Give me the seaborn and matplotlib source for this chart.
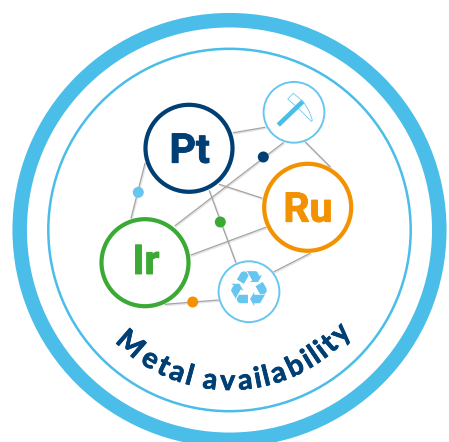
import numpy as np
import pandas as pd
import matplotlib
matplotlib.use("Agg")
import matplotlib.pyplot as plt
import matplotlib.patheffects as pe
from matplotlib.patches import Circle, Polygon
from matplotlib.textpath import TextToPath
from matplotlib.font_manager import FontProperties
import seaborn as sns

W, H = 449, 442
CX, CY = 229.5, 230.0

# metal / source nodes
metal_labels = ["Pt", "Ru", "Ir"]
metal_x = [189.0, 307.7, 145.0]
metal_y = [148.3, 207.3, 262.7]
metal_colors = ["#003F74", "#F39200", "#3BAA35"]
label_x = [189.7, 308.0, 146.0]
label_y = [162.7, 221.7, 274.0]

source_x = [294.0, 249.0]
source_y = [112.3, 291.7]

# network edges (start and end)
edge_x0 = [233.3, 145.0, 175.0, 305.0, 219.3, 209.3, 191.0, 274.0, 165.0]
edge_y0 = [132.7, 163.3, 225.7, 141.7, 184.3, 190.7, 255.0, 271.7, 304.3]
edge_x1 = [265.0, 131.0, 283.3, 330.0, 261.7, 235.7, 265.7, 310.0, 218.3]
edge_y1 = [127.3, 218.3, 142.7, 166.7, 198.0, 262.3, 227.3, 253.3, 300.0]

# small dots on the edges
dot_x = [138.3, 263.3, 220.3, 192.7]
dot_y = [192.3, 157.0, 222.0, 302.0]
dot_names = ["blue", "navy", "green", "orange"]
dot_palette = {"blue": "#66C6EF", "navy": "#003F74", "green": "#3BAA35", "orange": "#F39200"}

title = "Metal availability"

sns.set_theme(style="white")
LIGHT = "#4ABDE8"
ICON = "#66C6EF"
NAVY = "#003F74"

fig = plt.figure(figsize=(W / 100, H / 100), dpi=100, facecolor="white")
ax = fig.add_axes([0, 0, 1, 1])
ax.set_xlim(0, W)
ax.set_ylim(H, 0)
ax.set_aspect("equal")
ax.axis("off")

px = 72 / 100  # points per pixel

# rings
ax.add_patch(Circle((CX, CY), 209.8, fill=False, ec=LIGHT, lw=14.5 * px, zorder=1))
ax.add_patch(Circle((CX, CY), 181.2, fill=False, ec=LIGHT, lw=2.5 * px, zorder=1))

# edges with soft shadow
n = len(edge_x0)
edges = pd.DataFrame({
    "x": list(edge_x0) + list(edge_x1),
    "y": list(edge_y0) + list(edge_y1),
    "edge": list(range(n)) * 2,
})
shadow = edges.assign(x=edges.x + 0.8, y=edges.y + 1.0)
sns.lineplot(data=shadow, x="x", y="y", units="edge", estimator=None, sort=False,
             color="#000000", alpha=0.10, lw=2.0 * px, ax=ax, zorder=2, legend=False)
sns.lineplot(data=edges, x="x", y="y", units="edge", estimator=None, sort=False,
             color="#A3A3A3", lw=1.2 * px, ax=ax, zorder=3, legend=False)
ax.set_xlim(0, W)
ax.set_ylim(H, 0)

# metal nodes
for x, y, c, lab, lx, ly in zip(metal_x, metal_y, metal_colors, metal_labels, label_x, label_y):
    ax.add_patch(Circle((x, y), 43.5, fc="white", ec=c, lw=4.2 * px, zorder=4))
    ax.text(lx, ly, lab, color=c, fontsize=41 * px, family="Roboto", weight="bold",
            ha="center", va="baseline", zorder=5,
            path_effects=[pe.withStroke(linewidth=0.9 * px, foreground=c)])

# source nodes
for x, y in zip(source_x, source_y):
    ax.add_patch(Circle((x, y), 30.4, fc="white", ec=ICON, lw=1.9 * px, zorder=4))

# pickaxe icon, relative to its node centre
sx, sy = source_x[0], source_y[0]
head = np.array([[-0.7, -19], [-6.3, -13.3], [4.3, -4], [11, 2.7], [17.7, 9.3], [18.3, 7.7],
                 [15.3, -0.7], [9.3, -10.7]])
ax.add_patch(Polygon(head + [sx, sy], closed=True, fc="white", ec=ICON, lw=0.8 * px, zorder=5))
ax.plot([sx - 15.7, sx + 8.7], [sy + 12.7, sy - 10.7], color=LIGHT, lw=4.6 * px,
        solid_capstyle="butt", zorder=6)

# recycling icon
ax.text(source_x[1], source_y[1] + 0.5, "\u267b", color=ICON, fontsize=49 * px,
        family="DejaVu Sans", ha="center", va="center", zorder=5)

# dots
dots = pd.DataFrame({"x": dot_x, "y": dot_y, "name": dot_names})
sns.scatterplot(data=dots, x="x", y="y", hue="name", palette=dot_palette, s=(11 * px) ** 2,
                linewidth=0, legend=False, ax=ax, zorder=6)
ax.set_xlim(0, W)
ax.set_ylim(H, 0)
ax.set_xlabel("")
ax.set_ylabel("")

# curved title along the bottom arc, spaced by true glyph advances
fs_px = 28.5
FONT = "Lato"
WEIGHT = "bold"
fp = FontProperties(family=FONT, weight=WEIGHT, size=fs_px)
R = 160.0
start, end = np.radians(-47.0), np.radians(50.5)
t2p = TextToPath()


def advance(s):
    return t2p.get_text_width_height_descent(s, fp, ismath=False)[0]


total = advance(title)
for i, ch in enumerate(title):
    if ch == " ":
        continue
    p = advance(title[:i + 1]) - advance(ch) / 2
    th = start + (end - start) * p / total
    ax.text(CX + R * np.sin(th), CY + R * np.cos(th), ch, color=NAVY, fontsize=fs_px * px,
            family=FONT, weight=WEIGHT, rotation=np.degrees(th),
            rotation_mode="anchor", ha="center", va="baseline", zorder=5,
            path_effects=[pe.withStroke(linewidth=0.8 * px, foreground=NAVY)])

fig.savefig("out.png", dpi=100, facecolor="white")
